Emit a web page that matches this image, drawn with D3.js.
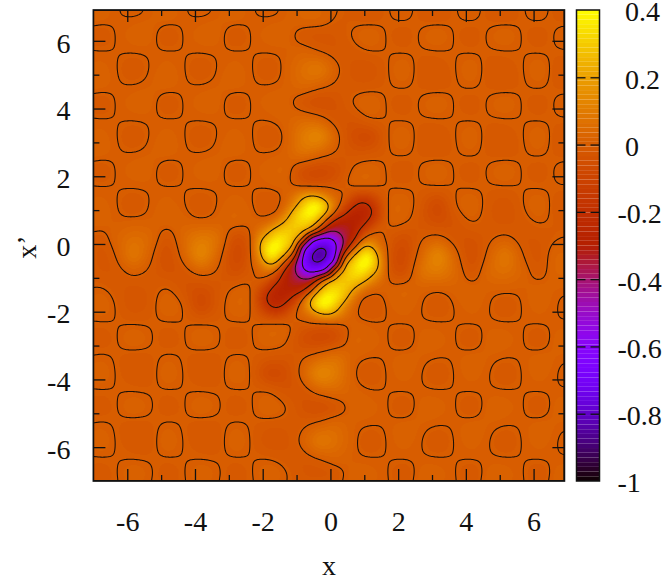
<!DOCTYPE html>
<html><head><meta charset="utf-8">
<script src="https://cdn.jsdelivr.net/npm/d3@7"></script>
<style>
html,body{margin:0;padding:0;background:#fff}
svg{display:block}
text{font-family:"Liberation Serif",serif;fill:#111}
</style></head><body>
<svg id="c" width="664" height="587"></svg>
<script>
// Values in thousandths. Rows run top to bottom (y = 7.17 ... -7.33),
// columns left to right (x = -7.33 ... 7.17), spacing 0.5.
const coarseRows = [
[2,12,2,-20,2,12,2,-20,2,12,2,-20,5,15,15,5,-14,-12,-2,20,-14,-12,-2,20,-14,-12,-2,20,-14,-12],
[8,14,3,2,8,14,3,2,8,14,3,2,8,25,25,-3,-8,-14,-3,3,-8,-14,-3,3,-8,-14,-3,3,-8,-14],
[14,-20,2,12,14,-20,2,12,14,-20,2,12,15,-15,-25,-18,3,20,-2,-12,3,20,-2,-12,3,20,-2,-12,3,20],
[3,2,1,2,3,2,1,2,3,2,1,2,6,20,2,-18,-12,-2,-1,-2,-3,-2,-1,-2,-3,-2,-1,-2,-3,-2],
[2,12,2,-20,2,12,2,-20,2,12,2,-20,10,55,80,10,-25,-30,-3,20,-14,-12,-2,20,-14,-12,-2,20,-14,-12],
[8,14,3,2,8,14,3,2,8,14,3,2,10,35,15,-10,-15,-14,-3,3,-8,-14,-3,3,-8,-14,-3,3,-8,-14],
[14,-20,2,12,14,-20,2,12,14,-20,2,12,15,-25,-50,-35,2,22,-2,-12,3,20,-2,-12,3,20,-2,-12,3,20],
[3,2,1,2,3,2,1,2,3,2,1,2,15,40,25,-25,-30,-4,-1,-2,-3,-2,-1,-2,-3,-2,-1,-2,-3,-2],
[2,12,2,-20,2,12,2,-20,2,12,2,-20,8,90,125,18,-55,-70,-4,20,-14,-15,-2,20,-14,-12,-2,20,-14,-12],
[8,14,3,2,8,14,3,2,8,14,3,2,15,60,30,-8,-25,-20,-3,3,-8,-14,-3,3,-8,-14,-3,3,-8,-14],
[14,-20,2,12,14,-20,2,12,14,-20,2,15,22,-50,-70,-50,6,20,-2,-15,3,20,-2,-12,3,20,-2,-12,3,20],
[3,2,1,2,3,2,1,2,3,2,1,3,10,3,2,-10,-1,-2,-1,-2,-3,-4,-1,-2,-3,-3,-1,-2,-3,-2],
[2,12,2,-20,2,12,2,-20,2,15,3,-20,30,250,345,60,-170,-190,-2,20,-20,-70,-4,22,-14,-30,-2,20,-14,-12],
[8,15,6,10,10,15,15,8,15,22,10,30,230,350,190,-265,-295,-170,-1,6,-25,-55,-30,2,-15,-25,-12,3,-8,-14],
[25,-15,20,55,35,-25,40,90,60,-50,3,250,350,60,-590,-540,-265,60,-10,-50,-8,18,-25,-35,-10,10,-18,-18,-3,5],
[25,-25,2,80,15,-50,25,125,30,-70,2,345,190,-590,-870,-590,190,345,2,-70,30,125,25,-50,15,80,2,-25,25,15],
[-3,-18,-18,10,-10,-35,-25,18,-8,-50,-10,60,-265,-540,-590,60,350,250,3,-50,60,90,40,-25,35,55,20,-15,25,15],
[-8,3,-12,-25,-15,2,-30,-55,-25,6,-1,-170,-295,-265,190,350,230,30,10,22,15,8,15,15,10,10,6,15,8,5],
[-14,20,-2,-30,-14,22,-4,-70,-20,20,-2,-190,-170,60,345,250,30,-20,3,15,2,-20,2,12,2,-20,2,12,2,-20],
[-3,-2,-1,-3,-3,-2,-1,-4,-3,-2,-1,-2,-1,-10,2,3,10,3,1,2,3,2,1,2,3,2,1,2,3,2],
[3,-12,-2,20,3,-12,-2,20,3,-15,-2,20,6,-50,-70,-50,22,15,2,-20,14,12,2,-20,14,12,2,-20,14,12],
[-8,3,-3,-14,-8,3,-3,-14,-8,3,-3,-20,-25,-8,30,60,15,2,3,14,8,2,3,14,8,2,3,14,8,2],
[-14,20,-2,-12,-14,20,-2,-15,-14,20,-4,-70,-55,18,125,90,8,-20,2,12,2,-20,2,12,2,-20,2,12,2,-20],
[-3,-2,-1,-2,-3,-2,-1,-2,-3,-2,-1,-4,-30,-25,25,40,15,2,1,2,3,2,1,2,3,2,1,2,3,2],
[3,-12,-2,20,3,-12,-2,20,3,-12,-2,22,2,-35,-50,-25,15,12,2,-20,14,12,2,-20,14,12,2,-20,14,12],
[-8,3,-3,-14,-8,3,-3,-14,-8,3,-3,-14,-15,-10,15,35,10,2,3,14,8,2,3,14,8,2,3,14,8,2],
[-14,20,-2,-12,-14,20,-2,-12,-14,20,-3,-30,-25,10,80,55,10,-20,2,12,2,-20,2,12,2,-20,2,12,2,-20],
[-3,-2,-1,-2,-3,-2,-1,-2,-3,-2,-1,-2,-12,-18,2,20,6,2,1,2,3,2,1,2,3,2,1,2,3,2],
[3,-12,-2,20,3,-12,-2,20,3,-12,-2,20,3,-18,-25,-15,15,12,2,-20,14,12,2,-20,14,12,2,-20,14,12],
[-8,3,-3,-14,-8,3,-3,-14,-8,3,-3,-14,-8,-3,25,25,8,2,3,14,8,2,3,14,8,2,3,14,8,2]
];
// Finer reading of the centre: x = -2.33 ... 1.67, y = 1.67 ... -2.33, spacing 0.25.
const centreRows = [
[1,2,3,8,10,8,3,3,2,0,-10,-6,-1,-2,-2,-2,-1],
[2,-12,-15,-8,15,70,160,210,170,85,25,-5,-70,-110,-90,-40,-2],
[3,-15,-20,-10,30,140,270,370,370,220,60,-60,-170,-235,-190,-90,-2],
[8,-8,-10,0,110,250,355,405,330,180,-40,-175,-265,-270,-235,-110,-2],
[10,15,30,110,210,290,330,300,190,-90,-265,-295,-295,-265,-170,-70,-1],
[8,70,160,250,290,290,255,170,-100,-335,-360,-330,-295,-175,-60,-5,-6],
[3,160,270,355,330,255,60,-470,-590,-630,-540,-360,-265,-40,60,25,-10],
[3,210,370,405,300,170,-470,-680,-790,-770,-630,-335,-90,180,220,85,0],
[2,170,370,330,190,-100,-590,-790,-870,-790,-590,-100,190,330,370,170,2],
[0,85,220,180,-90,-335,-630,-770,-790,-680,-470,170,300,405,370,210,3],
[-10,25,60,-40,-265,-360,-540,-630,-590,-470,60,255,330,355,270,160,3],
[-6,-5,-60,-175,-295,-330,-360,-335,-100,170,255,290,290,250,160,70,8],
[-1,-70,-170,-265,-295,-295,-265,-90,190,300,330,290,210,110,30,15,10],
[-2,-110,-235,-270,-265,-175,-40,180,330,405,355,250,110,0,-10,-8,8],
[-2,-90,-190,-235,-170,-60,60,220,370,370,270,140,30,-10,-20,-15,3],
[-2,-40,-90,-110,-70,-5,25,85,170,210,160,70,15,-8,-15,-12,2],
[-1,-2,-2,-2,-1,-6,-10,0,2,3,3,8,10,8,3,2,1]
];
const contourLevels = [-0.8,-0.6,-0.4,-0.2,0,0.2];
const majorTicks = [-6,-4,-2,0,2,4,6];
const minorTicks = [-5,-3,-1,1,3,5];
const barTicks = [0.4,0.2,0,-0.2,-0.4,-0.6,-0.8,-1];
const gridOrigin = -7.33, gridStep = 0.25;

const L=93.4,R=564.4,T=10,B=481,W=471,H=471;
const BL=576.5,BR=599.5;
const x=d3.scaleLinear().domain([-7,6.91]).range([L,R]);
const y=d3.scaleLinear().domain([-7,6.91]).range([B,T]);
const barY=d3.scaleLinear().domain([-1,0.4]).range([B,T]);

// default gnuplot palette with 100 steps
function pal(v){
  let t=Math.max(0,Math.min(0.9999,(v+1)/1.4));
  t=(Math.floor(t*100)+0.5)/100;
  const r=Math.sqrt(t),g=t*t*t,b=Math.max(0,Math.sin(2*Math.PI*t));
  return [r*255,g*255,b*255];
}
const cr=(a,b,c,d,t)=>b+0.5*t*(c-a+t*(2*a-5*b+4*c-d+t*(3*(b-c)+d-a)));

// bring both readings on one 0.25 lattice, bottom row first
const c=coarseRows.slice().reverse(), N=c.length, M=2*N-1;
const F=d3.range(M).map(()=>new Float64Array(M));
const cl=(i,n)=>Math.max(0,Math.min(n-1,i));
for(let j=0;j<N;j++)for(let i=0;i<N;i++){
  F[2*j][2*i]=c[j][i];
  if(i<N-1)F[2*j][2*i+1]=cr(c[j][cl(i-1,N)],c[j][i],c[j][i+1],c[j][cl(i+2,N)],0.5);
}
for(let j=0;j<N-1;j++)for(let k=0;k<M;k++){
  F[2*j+1][k]=cr(F[cl(2*j-2,M)][k],F[2*j][k],F[2*j+2][k],F[cl(2*j+4,M)][k],0.5);
}
centreRows.forEach((row,q)=>row.forEach((v,p)=>{F[36-q][20+p]=v;}));

function sample(xv,yv){
  const fx=(xv-gridOrigin)/gridStep, fy=(yv-gridOrigin)/gridStep;
  const i=Math.floor(fx),j=Math.floor(fy),tx=fx-i,ty=fy-j;
  const col=[];
  for(let m=-1;m<=2;m++){
    const r=F[cl(j+m,M)];
    col.push(cr(r[cl(i-1,M)],r[cl(i,M)],r[cl(i+1,M)],r[cl(i+2,M)],tx));
  }
  return cr(col[0],col[1],col[2],col[3],ty)/1000;
}
const vals=new Float64Array(W*H);
for(let py=0;py<H;py++)for(let px=0;px<W;px++){
  vals[py*W+px]=sample(x.invert(L+px+0.5),y.invert(T+py+0.5));
}
d3.blur2({data:vals,width:W,height:H},3);
const cv=document.createElement('canvas');cv.width=W;cv.height=H;
const ctx=cv.getContext('2d');const img=ctx.createImageData(W,H);
for(let k=0;k<W*H;k++){
  const [r,g,b]=pal(vals[k]),o=k*4;
  img.data[o]=r;img.data[o+1]=g;img.data[o+2]=b;img.data[o+3]=255;
}
ctx.putImageData(img,0,0);

const svg=d3.select('#c');
svg.append('clipPath').attr('id','pc').append('rect').attr('x',L).attr('y',T).attr('width',W).attr('height',H);
svg.append('image').attr('x',L).attr('y',T).attr('width',W).attr('height',H).attr('href',cv.toDataURL());
const contours=d3.contours().size([W,H]).smooth(true).thresholds(contourLevels)(Array.from(vals));
svg.append('g').attr('clip-path','url(#pc)').append('g').attr('transform',`translate(${L},${T})`)
  .selectAll('path').data(contours).join('path')
  .attr('d',d3.geoPath()).attr('fill','none').attr('stroke','#1a1008').attr('stroke-width',1.05);

// colour bar
const nb=100,bh=(B-T)/nb;
svg.append('g').selectAll('rect').data(d3.range(nb)).join('rect')
  .attr('x',BL).attr('width',BR-BL)
  .attr('y',d=>barY(-1+(d+1)*1.4/nb)).attr('height',bh)
  .attr('fill',d=>{const [r,g,b]=pal(-1+(d+0.5)*1.4/nb);return `rgb(${r|0},${g|0},${b|0})`;});

function styleAxis(g,fs){
  g.select('.domain').remove();
  g.selectAll('.tick line').attr('stroke','#111').attr('stroke-width',1.3);
  g.selectAll('text').attr('font-size',fs).attr('font-family','Liberation Serif').attr('fill','#111');
  return g;
}
const fmt=d=>String(d);
const FS=28;
styleAxis(svg.append('g').attr('transform',`translate(0,${B})`).call(d3.axisBottom(x).tickValues(majorTicks).tickSize(-12).tickPadding(30).tickFormat(fmt)),FS);
styleAxis(svg.append('g').attr('transform',`translate(0,${B})`).call(d3.axisBottom(x).tickValues(minorTicks).tickSize(-6).tickFormat('')),FS);
styleAxis(svg.append('g').attr('transform',`translate(0,${T})`).call(d3.axisTop(x).tickValues(majorTicks).tickSize(-12).tickFormat('')),FS);
styleAxis(svg.append('g').attr('transform',`translate(0,${T})`).call(d3.axisTop(x).tickValues(minorTicks).tickSize(-6).tickFormat('')),FS);
styleAxis(svg.append('g').attr('transform',`translate(${L},0)`).call(d3.axisLeft(y).tickValues(majorTicks).tickSize(-12).tickPadding(23).tickFormat(fmt)),FS)
  .selectAll('text').attr('dy','0.4em');
styleAxis(svg.append('g').attr('transform',`translate(${L},0)`).call(d3.axisLeft(y).tickValues(minorTicks).tickSize(-6).tickFormat('')),FS);
styleAxis(svg.append('g').attr('transform',`translate(${R},0)`).call(d3.axisRight(y).tickValues(majorTicks).tickSize(-12).tickFormat('')),FS);
styleAxis(svg.append('g').attr('transform',`translate(${R},0)`).call(d3.axisRight(y).tickValues(minorTicks).tickSize(-6).tickFormat('')),FS);

svg.append('rect').attr('x',L).attr('y',T).attr('width',W).attr('height',H).attr('fill','none').attr('stroke','#111').attr('stroke-width',1.7);

// colour bar axes
const barFmt=d=>d===0?'0':String(d);
const ba=svg.append('g').attr('transform',`translate(${BR},0)`).call(d3.axisRight(barY).tickValues(barTicks).tickSize(0).tickPadding(0).tickFormat(barFmt));
styleAxis(ba,FS);
ba.selectAll('text').attr('x',d=>d<0?18:25.5).attr('text-anchor','start').attr('dy','0.39em');
styleAxis(svg.append('g').attr('transform',`translate(${BL},0)`).call(d3.axisLeft(barY).tickValues(barTicks.slice(1,-1)).tickSize(-9).tickFormat('')),FS);
styleAxis(svg.append('g').attr('transform',`translate(${BR},0)`).call(d3.axisRight(barY).tickValues(barTicks.slice(1,-1)).tickSize(-9).tickFormat('')),FS);
svg.append('rect').attr('x',BL).attr('y',T).attr('width',BR-BL).attr('height',H).attr('fill','none').attr('stroke','#111').attr('stroke-width',1.5);

svg.append('text').attr('x',329).attr('y',575).attr('text-anchor','middle').attr('font-size',FS).text('x');
svg.append('text').attr('transform','translate(36,247) rotate(-90)').attr('text-anchor','middle').attr('font-size',FS).text("x’");
</script></body></html>
